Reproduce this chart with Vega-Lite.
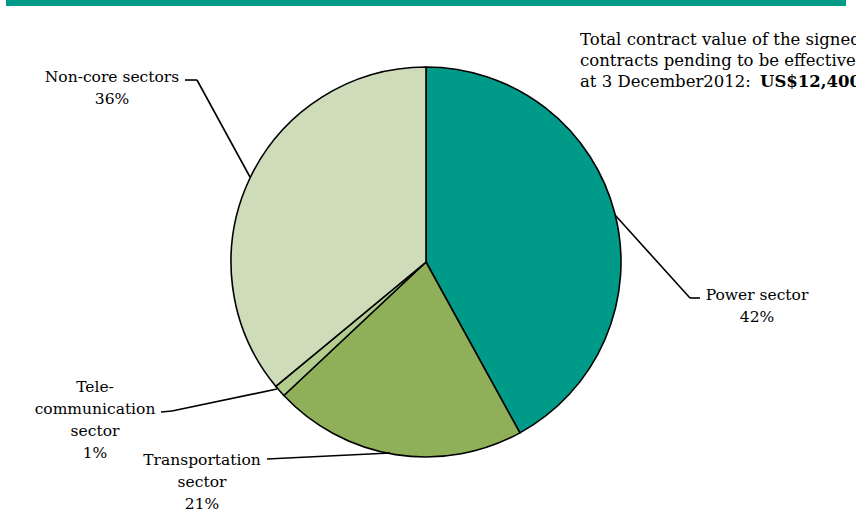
{
  "$schema": "https://vega.github.io/schema/vega-lite/v6.json",
  "width": 856,
  "height": 517,
  "padding": 0,
  "autosize": {"type": "none"},
  "background": "white",
  "config": {"view": {"stroke": null}},
  "datasets": {
    "slices": [
      {"sector": "Power sector", "share": 42, "order": 1},
      {"sector": "Transportation sector", "share": 21, "order": 2},
      {"sector": "Telecommunication sector", "share": 1, "order": 3},
      {"sector": "Non-core sectors", "share": 36, "order": 4}
    ],
    "leaders": [
      {"sector": "Non-core sectors", "x1": -1.2359, "y1": 0.9333, "x2": -1.1744, "y2": 0.9333},
      {"sector": "Non-core sectors", "x1": -1.1744, "y1": 0.9333, "x2": -0.9026, "y2": 0.4359},
      {"sector": "Power sector", "x1": 0.9692, "y1": 0.2410, "x2": 1.3538, "y2": -0.1846},
      {"sector": "Power sector", "x1": 1.3538, "y1": -0.1846, "x2": 1.4051, "y2": -0.1846},
      {"sector": "Telecommunication sector", "x1": -1.3590, "y1": -0.7692, "x2": -1.3026, "y2": -0.7641},
      {"sector": "Telecommunication sector", "x1": -1.3026, "y1": -0.7641, "x2": -0.7641, "y2": -0.6513},
      {"sector": "Transportation sector", "x1": -0.8154, "y1": -1.0103, "x2": -0.1846, "y2": -0.9795}
    ],
    "labels": [
      {"label": "Non-core sectors\n36%", "lx": -1.6103, "ly": 0.9231},
      {"label": "Power sector\n42%", "lx": 1.6974, "ly": -0.1949},
      {"label": "Tele-\ncommunication\nsector\n1%", "lx": -1.6974, "ly": -0.6667},
      {"label": "Transportation\nsector\n21%", "lx": -1.1487, "ly": -1.0410}
    ],
    "note": [
      {"text": "Total contract value of the signed\ncontracts pending to be effective as\nat 3 December2012: ", "nx": 0.7897, "ny": 1.1128}
    ],
    "noteBold": [
      {"text": "US$12,400 million", "nx": 1.7128, "ny": 0.8974}
    ],
    "bar": [
      {"x1": -2.1538, "x2": 2.1538, "y1": 1.3436, "y2": 1.3128}
    ]
  },
  "layer": [
    {
      "data": {"name": "bar"},
      "mark": {"type": "rect", "color": "#009A89"},
      "encoding": {
        "x": {"field": "x1", "type": "quantitative", "scale": {"domain": [-2.1846, 2.2051]}, "axis": null},
        "x2": {"field": "x2"},
        "y": {"field": "y1", "type": "quantitative", "scale": {"domain": [-1.3077, 1.3436]}, "axis": null},
        "y2": {"field": "y2"}
      }
    },
    {
      "data": {"name": "slices"},
      "mark": {"type": "arc", "outerRadius": 195, "stroke": "#000000", "strokeWidth": 1.6},
      "encoding": {
        "x": {"datum": 0, "type": "quantitative", "scale": {"domain": [-2.1846, 2.2051]}, "axis": null},
        "y": {"datum": 0, "type": "quantitative", "scale": {"domain": [-1.3077, 1.3436]}, "axis": null},
        "theta": {"field": "share", "type": "quantitative", "stack": true},
        "order": {"field": "order", "type": "quantitative"},
        "color": {
          "field": "sector", "type": "nominal", "legend": null,
          "scale": {
            "domain": ["Power sector", "Transportation sector", "Telecommunication sector", "Non-core sectors"],
            "range": ["#009A89", "#8FAF58", "#B2CD8E", "#CFDCBA"]
          }
        }
      }
    },
    {
      "data": {"name": "leaders"},
      "mark": {"type": "rule", "color": "#000000", "strokeWidth": 1.6},
      "encoding": {
        "x": {"field": "x1", "type": "quantitative", "scale": {"domain": [-2.1846, 2.2051]}, "axis": null},
        "x2": {"field": "x2"},
        "y": {"field": "y1", "type": "quantitative", "scale": {"domain": [-1.3077, 1.3436]}, "axis": null},
        "y2": {"field": "y2"}
      }
    },
    {
      "data": {"name": "labels"},
      "mark": {"type": "text", "font": "DejaVu Serif", "fontSize": 15.5, "align": "center", "baseline": "alphabetic", "lineBreak": "\n", "lineHeight": 22, "color": "#000000"},
      "encoding": {
        "x": {"field": "lx", "type": "quantitative", "scale": {"domain": [-2.1846, 2.2051]}, "axis": null},
        "y": {"field": "ly", "type": "quantitative", "scale": {"domain": [-1.3077, 1.3436]}, "axis": null},
        "text": {"field": "label"}
      }
    },
    {
      "data": {"name": "note"},
      "mark": {"type": "text", "font": "DejaVu Serif", "fontSize": 16.5, "align": "left", "baseline": "alphabetic", "lineBreak": "\n", "lineHeight": 21, "color": "#000000"},
      "encoding": {
        "x": {"field": "nx", "type": "quantitative", "scale": {"domain": [-2.1846, 2.2051]}, "axis": null},
        "y": {"field": "ny", "type": "quantitative", "scale": {"domain": [-1.3077, 1.3436]}, "axis": null},
        "text": {"field": "text"}
      }
    },
    {
      "data": {"name": "noteBold"},
      "mark": {"type": "text", "font": "DejaVu Serif", "fontSize": 16.5, "fontWeight": "bold", "align": "left", "baseline": "alphabetic", "color": "#000000"},
      "encoding": {
        "x": {"field": "nx", "type": "quantitative", "scale": {"domain": [-2.1846, 2.2051]}, "axis": null},
        "y": {"field": "ny", "type": "quantitative", "scale": {"domain": [-1.3077, 1.3436]}, "axis": null},
        "text": {"field": "text"}
      }
    }
  ]
}
